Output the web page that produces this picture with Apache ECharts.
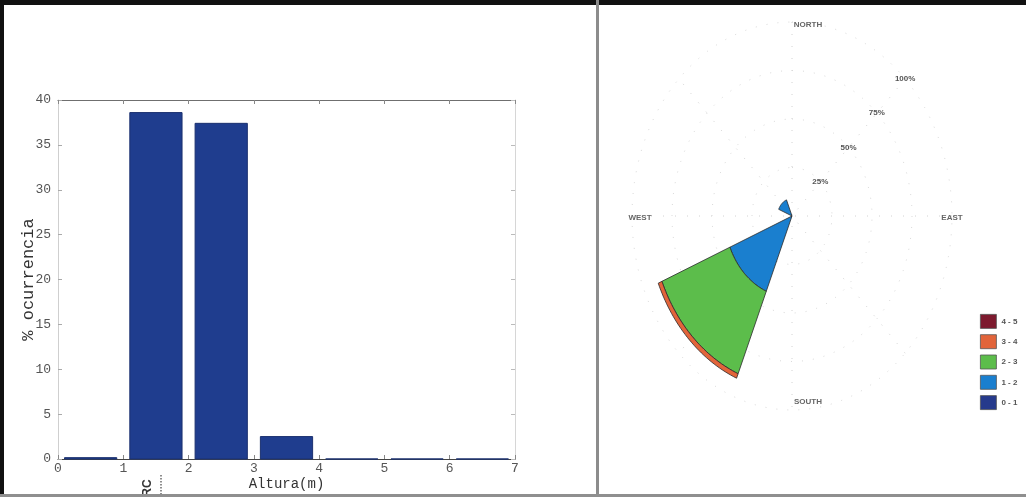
<!DOCTYPE html>
<html>
<head>
<meta charset="utf-8">
<script src="https://cdn.jsdelivr.net/npm/echarts@6/dist/echarts.min.js"></script>
<style>
  html, body { margin: 0; padding: 0; background: #ffffff; }
  #chart { width: 1026px; height: 502px; }
</style>
</head>
<body>
<div id="chart"></div>
<script>
// ---- Wave height histogram ----
const binCenters = [0.5, 1.5, 2.5, 3.5, 4.5, 5.5, 6.5];
const occurrence = [0.15, 38.6, 37.4, 2.5, 0, 0, 0];
const xTickValues = [0, 1, 2, 3, 4, 5, 6, 7];
const yTickValues = [0, 5, 10, 15, 20, 25, 30, 35, 40];

// ---- Rose: sectors by direction, stacked by height class ----
const bearings = [0, 45, 90, 135, 180, 225, 270, 315];
const classNames = ['0 - 1', '1 - 2', '2 - 3', '3 - 4', '4 - 5'];
const class01 = [0, 0, 0, 0, 0, 0.4, 0, 0];
const class12 = [0, 0, 0, 0, 0, 41.6, 0, 9];
const class23 = [0, 0, 0, 0, 0, 46, 0, 0];
const class34 = [0, 0, 0, 0, 0, 2.5, 0, 0];
const class45 = [0, 0, 0, 0, 0, 0, 0, 0];
const ringLevels = [25, 50, 75, 100];
const ringLabels = ['25%', '50%', '75%', '100%'];
const spokeBearings = [0, 45, 90, 135];
const compassNames = ['NORTH', 'EAST', 'SOUTH', 'WEST'];

const classColors = ['#263a8c', '#1a7fcf', '#5cbd4b', '#e2643a', '#7d1a2e'];
const mono = "'Liberation Mono', 'DejaVu Sans Mono', monospace";
const sans = "'Liberation Sans', Arial, sans-serif";

const chart = echarts.init(document.getElementById('chart'));

// bar from x-0.4 to x+0.4, drawn through the histogram axes
function renderBar(params, api) {
  const x = api.value(0), v = api.value(1);
  const p0 = api.coord([x - 0.4, v]);
  const p1 = api.coord([x + 0.4, 0]);
  return {
    type: 'rect',
    shape: { x: p0[0], y: p0[1], width: p1[0] - p0[0], height: p1[1] - p0[1] },
    style: { fill: '#1f3d8e', stroke: '#1b316f', lineWidth: 1 }
  };
}

// compass bearing (deg, clockwise from north) and radius (%) -> pixel
function polarPoint(api, r, deg) {
  const t = deg * Math.PI / 180;
  return api.coord([r * Math.sin(t), r * Math.cos(t)]);
}

function renderSector(params, api) {
  const b = api.value(0), r0 = api.value(1), r1 = api.value(2);
  const n = 36, pts = [];
  for (let i = 0; i <= n; i++) pts.push(polarPoint(api, r1, b - 22.5 + 45 * i / n));
  if (r0 > 0) {
    for (let i = n; i >= 0; i--) pts.push(polarPoint(api, r0, b - 22.5 + 45 * i / n));
  } else {
    pts.push(polarPoint(api, 0, 0));
  }
  return {
    type: 'polygon',
    shape: { points: pts },
    style: { fill: api.visual('color'), stroke: '#2b2b2b', lineWidth: 0.8 }
  };
}

// stack the classes outward per direction
const classValues = [class01, class12, class23, class34, class45];
const cumulative = bearings.map(() => 0);
const roseSeries = classValues.map((vals, k) => {
  const data = [];
  vals.forEach((v, i) => {
    if (v > 0) data.push([bearings[i], cumulative[i], cumulative[i] + v]);
    cumulative[i] += v;
  });
  return {
    type: 'custom',
    name: classNames[k],
    coordinateSystem: 'cartesian2d',
    xAxisIndex: 2, yAxisIndex: 2,
    itemStyle: { color: classColors[k] },
    renderItem: renderSector,
    data: data,
    z: 3
  };
});

const ringSeries = {
  type: 'custom',
  coordinateSystem: 'cartesian2d',
  xAxisIndex: 2, yAxisIndex: 2,
  silent: true,
  z: 1,
  data: ringLevels.map((r, i) => [r, i]),
  renderItem(params, api) {
    const r = api.value(0), i = api.value(1);
    const pts = [];
    for (let d = 0; d <= 360; d += 2) pts.push(polarPoint(api, r, d));
    const lp = polarPoint(api, r, 45);
    return {
      type: 'group',
      children: [
        { type: 'polyline', shape: { points: pts },
          style: { stroke: '#dadada', lineWidth: 1, lineDash: [1, 10], fill: null } },
        { type: 'text', x: lp[0], y: lp[1],
          style: { text: ringLabels[i], font: 'bold 8px ' + sans, fill: '#555',
                   align: 'center', verticalAlign: 'middle' } }
      ]
    };
  }
};

const spokeSeries = {
  type: 'custom',
  coordinateSystem: 'cartesian2d',
  xAxisIndex: 2, yAxisIndex: 2,
  silent: true,
  z: 1,
  data: spokeBearings.map(b => [b, 0]),
  renderItem(params, api) {
    const b = api.value(0);
    const a = polarPoint(api, 100, b);
    const c = polarPoint(api, 100, b + 180);
    return {
      type: 'line',
      shape: { x1: a[0], y1: a[1], x2: c[0], y2: c[1] },
      style: { stroke: '#d2d2d2', lineWidth: 1, lineDash: [1, 11] }
    };
  }
};

const compassPos = { NORTH: [808, 25], EAST: [952, 218], SOUTH: [808, 402], WEST: [640, 218] };

chart.setOption({
  animation: false,
  backgroundColor: '#ffffff',
  grid: [
    { left: 58, right: 511, top: 100, bottom: 43 },
    { left: 632, right: 74, top: 22, bottom: 92 }
  ],
  xAxis: [
    {
      gridIndex: 0, type: 'value', min: 0, max: 7, interval: 1,
      name: 'Altura(m)', nameLocation: 'middle', nameGap: 18, nameMoveOverlap: false,
      nameTextStyle: { fontFamily: mono, fontSize: 14, color: '#333' },
      axisLine: { onZero: false, lineStyle: { color: '#444', width: 1.2 } },
      axisTick: { inside: true, length: 4, lineStyle: { color: '#888' } },
      axisLabel: { fontFamily: mono, fontSize: 13, color: '#555', margin: 3,
        formatter: v => xTickValues.includes(v) ? String(v) : '' },
      splitLine: { show: false }
    },
    {
      gridIndex: 0, type: 'value', position: 'top', min: 0, max: 7, interval: 1,
      axisLine: { onZero: false, lineStyle: { color: '#6f6f6f', width: 1.2 } },
      axisTick: { inside: true, length: 4, lineStyle: { color: '#888' } },
      axisLabel: { show: false }, splitLine: { show: false }
    },
    { gridIndex: 1, type: 'value', min: -100, max: 100, show: false, splitLine: { show: false } }
  ],
  yAxis: [
    {
      gridIndex: 0, type: 'value', min: 0, max: 40, interval: 5,
      name: '% ocurrencia', nameLocation: 'middle', nameGap: 21, nameRotate: 90,
      nameMoveOverlap: false,
      nameTextStyle: { fontFamily: mono, fontSize: 17, color: '#333' },
      axisLine: { show: true, onZero: false, lineStyle: { color: '#cfcfcf' } },
      axisTick: { show: true, inside: true, length: 4, lineStyle: { color: '#aaa' } },
      axisLabel: { fontFamily: mono, fontSize: 13, color: '#555', margin: 7,
        formatter: v => yTickValues.includes(v) ? String(v) : '' },
      splitLine: { show: false }
    },
    {
      gridIndex: 0, type: 'value', position: 'right', min: 0, max: 40, interval: 5,
      axisLine: { show: true, onZero: false, lineStyle: { color: '#d6d6d6' } },
      axisTick: { show: true, inside: true, length: 4, lineStyle: { color: '#bbb' } },
      axisLabel: { show: false }, splitLine: { show: false }
    },
    { gridIndex: 1, type: 'value', min: -100, max: 100, show: false, splitLine: { show: false } }
  ],
  legend: {
    data: ['4 - 5', '3 - 4', '2 - 3', '1 - 2', '0 - 1'],
    orient: 'vertical',
    left: 975, top: 309,
    itemWidth: 16, itemHeight: 14, itemGap: 5.5,
    icon: 'rect',
    itemStyle: { borderColor: '#555', borderWidth: 0.8 },
    textStyle: { fontFamily: sans, fontSize: 8, fontWeight: 'bold', color: '#555' },
    selectedMode: false
  },
  series: [
    {
      type: 'custom',
      name: 'ocurrencia',
      coordinateSystem: 'cartesian2d',
      xAxisIndex: 0, yAxisIndex: 0,
      renderItem: renderBar,
      data: binCenters.map((x, i) => [x, occurrence[i]]),
      z: 3
    },
    spokeSeries,
    ringSeries
  ].concat(roseSeries),
  graphic: [
    // frame
    { type: 'rect', shape: { x: 0, y: 0, width: 1026, height: 5 }, style: { fill: '#111' }, z: 10 },
    { type: 'rect', shape: { x: 0, y: 0, width: 4, height: 496 }, style: { fill: '#111' }, z: 10 },
    { type: 'rect', shape: { x: 596, y: 0, width: 3, height: 496 }, style: { fill: '#8c8c8c' }, z: 10 },
    { type: 'rect', shape: { x: 0, y: 494, width: 1026, height: 3 }, style: { fill: '#8f8f8f' }, z: 10 },
    // margin mark under the histogram
    { type: 'text', x: 148, y: 488, rotation: Math.PI / 2,
      style: { text: 'RC', font: 'bold 12px ' + sans, fill: '#333', align: 'center', verticalAlign: 'middle' }, z: 9 },
    { type: 'line', shape: { x1: 161, y1: 475, x2: 161, y2: 494 },
      style: { stroke: '#444', lineWidth: 1.2, lineDash: [1.5, 1.5] }, z: 9 }
  ].concat(compassNames.map(n => ({
    type: 'text', x: compassPos[n][0], y: compassPos[n][1],
    style: { text: n, font: 'bold 8px ' + sans, fill: '#666', align: 'center', verticalAlign: 'middle' },
    z: 5
  })))
});
</script>
</body>
</html>
